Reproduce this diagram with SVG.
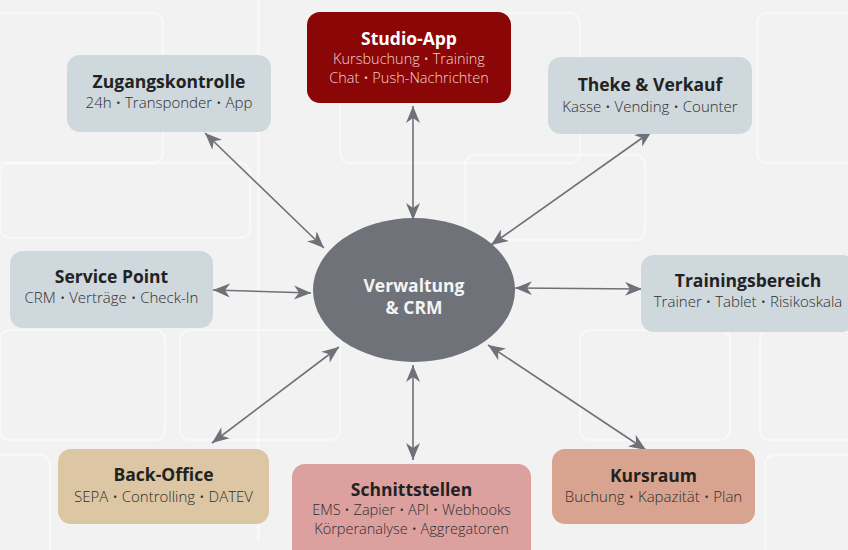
<svg xmlns="http://www.w3.org/2000/svg" width="848" height="550" viewBox="0 0 848 550">
  <style>
    .bg-deco { fill: none; stroke: #ffffff; stroke-width: 2.5; opacity: 0.45; }
    .box { stroke: none; }
    .grey { fill: #cfd8dd; }
    .title { font-family: "Open Sans", "Noto Sans", sans-serif; font-weight: 700; font-size: 17.5px; fill: #222222; text-anchor: middle; }
    .sub { font-family: "Open Sans", "Noto Sans", sans-serif; font-weight: 300; font-size: 15px; fill: #2e2e2e; text-anchor: middle; }
    .sub.tight { font-size: 14.5px; }
    .light .title { fill: #ffffff; }
    .light .sub { fill: #f1d3d3; }
    .center-text { font-family: "Open Sans", "Noto Sans", sans-serif; font-weight: 700; font-size: 17.5px; fill: #f4f4f5; text-anchor: middle; }
    .conn line { stroke: #6e7178; stroke-width: 1.6; fill: none; marker-start: url(#arr); marker-end: url(#arr); }
  </style>
  <defs>
    <marker id="arr" viewBox="0 0 18 14" markerWidth="18" markerHeight="14" refX="17" refY="7" orient="auto-start-reverse" markerUnits="userSpaceOnUse">
      <path d="M0,0 L17,7 L0,14 L5,7 Z" fill="#6e7178"/>
    </marker>
  </defs>

  <rect x="0" y="0" width="848" height="550" fill="#f2f2f3"/>
  <g id="background">
    <rect class="bg-deco" x="-20" y="13" width="183" height="150" rx="10"/>
    <rect class="bg-deco" x="258" y="-20" width="0.5" height="560" rx="0"/>
    <rect class="bg-deco" x="340" y="13" width="240" height="150" rx="10"/>
    <rect class="bg-deco" x="757" y="13" width="120" height="150" rx="10"/>
    <rect class="bg-deco" x="0" y="163" width="250" height="75" rx="10"/>
    <rect class="bg-deco" x="0" y="330" width="165" height="110" rx="10"/>
    <rect class="bg-deco" x="180" y="330" width="160" height="110" rx="10"/>
    <rect class="bg-deco" x="465" y="155" width="180" height="85" rx="10"/>
    <rect class="bg-deco" x="580" y="330" width="150" height="110" rx="10"/>
    <rect class="bg-deco" x="760" y="330" width="120" height="110" rx="10"/>
    <rect class="bg-deco" x="-10" y="455" width="60" height="110" rx="10"/>
    <rect class="bg-deco" x="765" y="455" width="100" height="110" rx="10"/>
  </g>

  <g id="connectors" class="conn">
    <line x1="205" y1="133" x2="324" y2="248"/>
    <line x1="413" y1="106" x2="413" y2="220"/>
    <line x1="652" y1="131" x2="491" y2="245"/>
    <line x1="213" y1="290" x2="311" y2="293"/>
    <line x1="515" y1="288" x2="642" y2="289"/>
    <line x1="212" y1="443" x2="339" y2="347"/>
    <line x1="413" y1="365" x2="413" y2="460"/>
    <line x1="488" y1="345" x2="646" y2="450"/>
  </g>

  <g id="center">
    <ellipse cx="414" cy="290" rx="101" ry="72" fill="#6f7279"/>
    <text class="center-text" x="414" y="292">Verwaltung</text>
    <text class="center-text" x="414" y="314">&amp; CRM</text>
  </g>

  <g id="studio-app" class="light">
    <rect class="box" x="307" y="12" width="204" height="91" rx="13" fill="#8b0606"/>
    <text class="title" x="409" y="45">Studio-App</text>
    <text class="sub tight" x="409" y="64">Kursbuchung • Training</text>
    <text class="sub tight" x="409" y="83">Chat • Push-Nachrichten</text>
  </g>

  <g id="zugangskontrolle">
    <rect class="box grey" x="67" y="55" width="204" height="77" rx="13"/>
    <text class="title" x="169" y="88">Zugangskontrolle</text>
    <text class="sub" x="169" y="108">24h • Transponder • App</text>
  </g>

  <g id="theke-verkauf">
    <rect class="box grey" x="548" y="57" width="204" height="77" rx="13"/>
    <text class="title" x="650" y="91">Theke &amp; Verkauf</text>
    <text class="sub" x="650" y="112">Kasse • Vending • Counter</text>
  </g>

  <g id="service-point">
    <rect class="box grey" x="10" y="251" width="203" height="77" rx="13"/>
    <text class="title" x="111.5" y="283">Service Point</text>
    <text class="sub" x="111.5" y="303">CRM • Verträge • Check-In</text>
  </g>

  <g id="trainingsbereich">
    <rect class="box grey" x="641" y="255" width="214" height="77" rx="13"/>
    <text class="title" x="748" y="287">Trainingsbereich</text>
    <text class="sub" x="748" y="307">Trainer • Tablet • Risikoskala</text>
  </g>

  <g id="back-office">
    <rect class="box" x="58" y="449" width="211" height="75" rx="13" fill="#dcc6a4"/>
    <text class="title" x="163.5" y="481">Back-Office</text>
    <text class="sub" x="163.5" y="502">SEPA • Controlling • DATEV</text>
  </g>

  <g id="schnittstellen">
    <rect class="box" x="292" y="464" width="239" height="100" rx="13" fill="#dca09f"/>
    <text class="title" x="411.5" y="496">Schnittstellen</text>
    <text class="sub tight" x="411.5" y="515">EMS • Zapier • API • Webhooks</text>
    <text class="sub tight" x="411.5" y="534">Körperanalyse • Aggregatoren</text>
  </g>

  <g id="kursraum">
    <rect class="box" x="552" y="449" width="203" height="75" rx="13" fill="#d9a48f"/>
    <text class="title" x="653.5" y="482">Kursraum</text>
    <text class="sub" x="653.5" y="502">Buchung • Kapazität • Plan</text>
  </g>
</svg>
